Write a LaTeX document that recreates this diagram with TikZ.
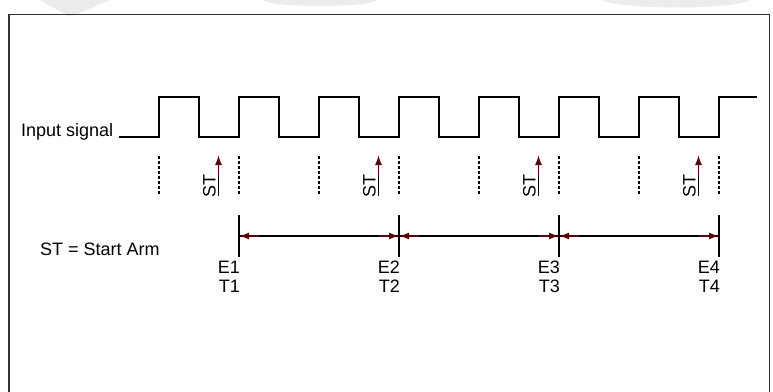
\documentclass[tikz,border=0pt]{standalone}
\usepackage{fontspec}
\setmainfont{Liberation Sans}
\usetikzlibrary{arrows.meta,calc}
\definecolor{arrred}{RGB}{95,0,10}
\definecolor{framegray}{RGB}{50,50,50}
\tikzset{
  sig/.style={line width=1.5pt, black},
  frameline/.style={line width=1.5pt, framegray},
  dashline/.style={line width=1.5pt, dash pattern=on 3pt off 2pt},
  tickline/.style={line width=1.5pt},
  stline/.style={line width=1.5pt},
  redarrow/.style={line width=1.6pt, arrred, -{Latex[length=10pt,width=7pt]}},
  lbl/.style={inner sep=0pt, font=\fontsize{18}{19}\selectfont},
  elbl/.style={inner sep=0pt, align=right, font=\fontsize{18}{19}\selectfont},
}
\begin{document}
\begin{tikzpicture}[x=1pt,y=-1pt]
\useasboundingbox (0,0) rectangle (773,391);
% faint watermark
\fill[gray!15] (40,0) -- (110,0) -- (75,15) -- (68,16) -- cycle;
\fill[gray!15] (262,0) .. controls (275,8) and (365,8) .. (378,0) -- cycle;
\fill[gray!15] (602,0) .. controls (620,10) and (735,10) .. (750,0) -- cycle;
% frame
\draw[frameline] (9,395) -- (9,14.5) -- (769.5,14.5) -- (769.5,395);
% labels
\node[lbl, anchor=base west] (inp) at (21,136) {Input signal};
\node[lbl, anchor=base west] (leg) at (40,255) {ST = Start Arm};
% input signal
\draw[sig] (119,137)
  \foreach \i in {0,...,6} { -- ({159+80*\i},137) -- ({159+80*\i},97) -- ({199+80*\i},97) -- ({199+80*\i},137) }
  -- (719,137) -- (719,97) -- (757,97);
% dashed markers
\foreach \i in {0,...,7} {
  \coordinate (dt\i) at ({159+80*\i},156);
  \coordinate (db\i) at ({159+80*\i},195);
  \draw[dashline] (dt\i) -- (db\i);
}
% ST arrows
\foreach \x [count=\k] in {218.5,378.5,538.5,698.5} {
  \coordinate (sb\k) at (\x,196);
  \coordinate (sm\k) at (\x,177);
  \coordinate (st\k) at (\x,155);
  \draw[stline] (sb\k) -- (sm\k);
  \draw[redarrow] (sm\k) -- (st\k);
  \node[lbl, rotate=90, anchor=south west] (stl\k) at (\x-2.5,198) {ST};
}
% ticks and measurement line
\foreach \x [count=\k] in {239,399,559,719} {
  \coordinate (tt\k) at (\x,215);
  \coordinate (tb\k) at (\x,257);
  \coordinate (tm\k) at (\x,236);
  \draw[tickline] (tt\k) -- (tb\k);
  \node[elbl, anchor=north east] (el\k) at (\x+1,261) {E\k\\T\k};
}
\draw[tickline] (tm1) -- (tm4);
\foreach \a/\b in {1/2,2/3,3/4} {
  \draw[redarrow] ($(tm\a)+(20,0)$) -- (tm\a);
  \draw[redarrow] ($(tm\b)+(-20,0)$) -- (tm\b);
}
\end{tikzpicture}
\end{document}
